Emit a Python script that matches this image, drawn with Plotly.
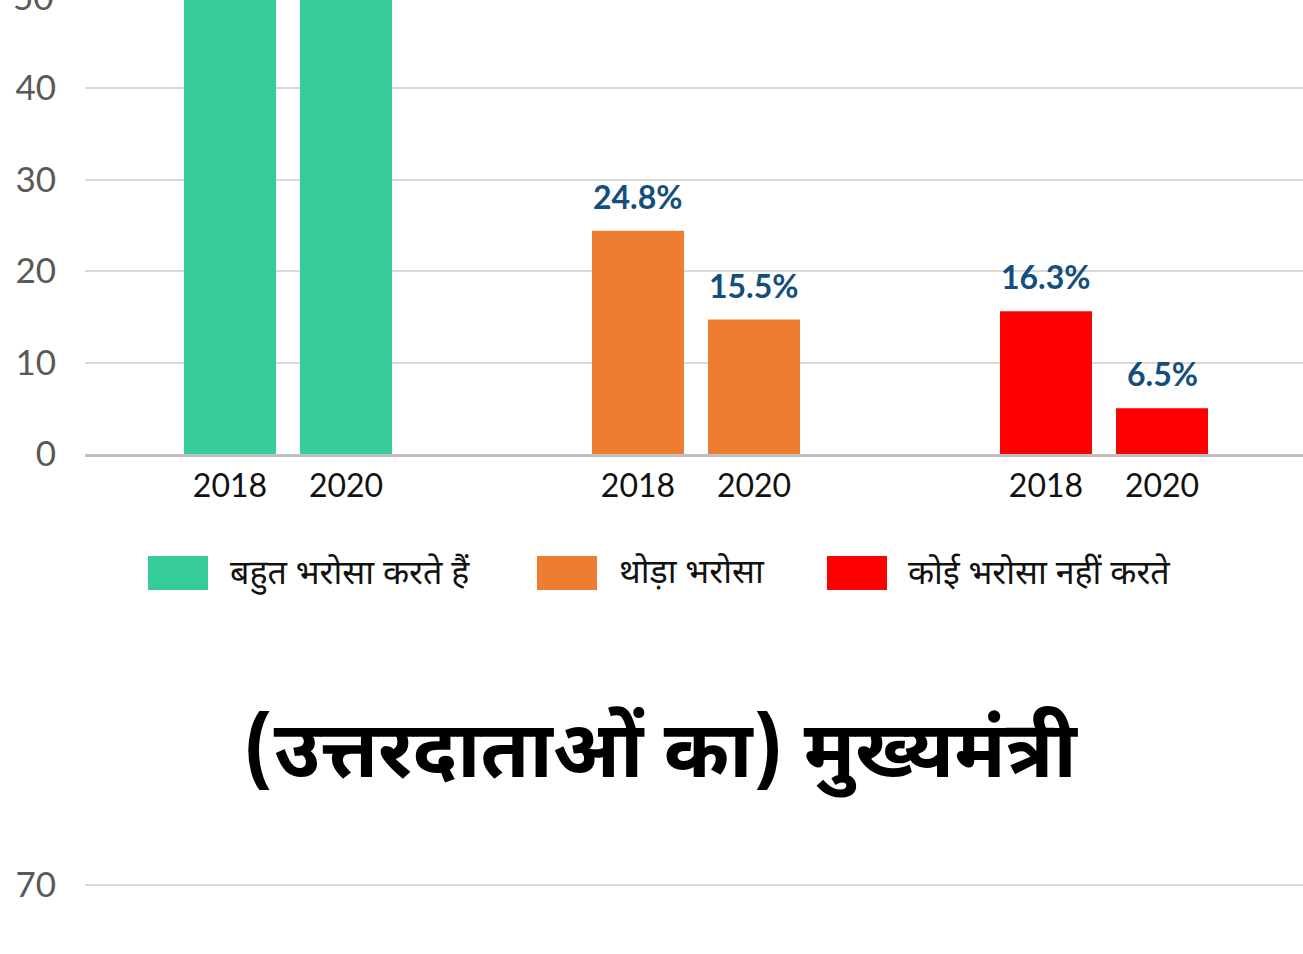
import plotly.graph_objects as go

# ---------------- data ----------------
years = ["2018", "2020"]
series_names = ["बहुत भरोसा करते हैं", "थोड़ा भरोसा", "कोई भरोसा नहीं करते"]
trust_high = [58.9, 78.0]      # above visible range
trust_some = [24.4, 14.7]
trust_none = [15.6, 5.0]
labels_high = ["58.9%", "78.0%"]
labels_some = ["24.8%", "15.5%"]
labels_none = ["16.3%", "6.5%"]
y_ticks = [0, 10, 20, 30, 40]
title_text = "(उत्तरदाताओं का) मुख्यमंत्री"

colors = ["#35CC97", "#ED7D31", "#FF0000"]
series_vals = [trust_high, trust_some, trust_none]
series_labels = [labels_high, labels_some, labels_none]

W, H = 1303, 954
ML = 85
PW = W - ML

def px2x(px):
    return (px - ML) / PW

def py2y(py):
    return 1 - py / H

offset = 0.1422
bar_w = 0.2255

fig = go.Figure()
annotations = []
tickvals, ticktext = [], []
for gi, (name, vals, labs, col) in enumerate(zip(series_names, series_vals, series_labels, colors)):
    xs = [gi - offset, gi + offset]
    tickvals += xs
    ticktext += years
    fig.add_trace(go.Bar(
        x=xs, y=vals, width=bar_w, name=name,
        marker=dict(color=col, line=dict(width=0)),
        showlegend=False, xaxis="x", yaxis="y",
    ))
    for xv, v, lab in zip(xs, vals, labs):
        annotations.append(dict(
            x=xv, y=v, xref="x", yref="y", text=lab, showarrow=False,
            yanchor="bottom", yshift=13,
            font=dict(family="Lato", size=32, color="#134F7C", weight=700),
        ))

# empty trace for the second (cut-off) chart
fig.add_trace(go.Scatter(x=[None], y=[None], xaxis="x2", yaxis="y2", showlegend=False))

# partially visible "50" tick above the view
annotations.append(dict(
    x=px2x(56), y=1 + 4 / H, xref="paper", yref="paper", text="50",
    showarrow=False, xanchor="right", yanchor="middle",
    font=dict(family="Lato", size=35, color="#595959"),
))

# manual legend
legend_items = [(148, 228), (537, 617), (827, 906)]
shapes = []
for (bx, tx), name, col in zip(legend_items, series_names, colors):
    shapes.append(dict(type="rect", xref="paper", yref="paper",
                       x0=px2x(bx), x1=px2x(bx + 60), y0=py2y(590), y1=py2y(556),
                       fillcolor=col, line=dict(width=0)))
    annotations.append(dict(
        x=px2x(tx), y=py2y(575), xref="paper", yref="paper", text=name,
        showarrow=False, xanchor="left", yanchor="middle",
        font=dict(family="Noto Sans Devanagari, Noto Sans, sans-serif", size=34, color="#111111"),
    ))

# second chart title
annotations.append(dict(
    x=px2x(660), y=py2y(757), xref="paper", yref="paper", text=title_text,
    showarrow=False, xanchor="center", yanchor="middle",
    font=dict(family="Noto Sans Devanagari, Noto Sans, sans-serif", size=79, color="#000000", weight=700),
))

scale = 366 / 40.0
fig.update_layout(
    width=W, height=H,
    margin=dict(l=ML, r=0, t=0, b=0, autoexpand=False),
    paper_bgcolor="white", plot_bgcolor="white",
    barmode="overlay",
    annotations=annotations, shapes=shapes,
    xaxis=dict(range=[-203 / 408, -203 / 408 + PW / 408], tickvals=tickvals, ticktext=ticktext,
               showgrid=False, zeroline=False, showline=True, linecolor="#BFBFBF", linewidth=3,
               ticks="", tickfont=dict(family="Lato", size=32, color="#111111"),
               ticklabelstandoff=2, anchor="y", fixedrange=True),
    yaxis=dict(domain=[1 - 454 / H, 1], range=[0, 454 / scale], tickvals=y_ticks,
               showgrid=True, gridcolor="#D9D9D9", gridwidth=2, zeroline=False,
               ticks="", tickfont=dict(family="Lato", size=35, color="#595959"),
               ticklabelstandoff=28, anchor="x"),
    xaxis2=dict(range=[-203 / 408, -203 / 408 + PW / 408], showticklabels=False, showgrid=False,
                zeroline=False, showline=False, anchor="y2"),
    yaxis2=dict(domain=[0, 81 / H], range=[70 - (954 - 885) / scale, 70 + (885 - 873) / scale],
                tick0=0, dtick=10, showgrid=True, gridcolor="#D9D9D9", gridwidth=2, zeroline=False,
                ticks="", tickfont=dict(family="Lato", size=35, color="#595959"),
                ticklabelstandoff=28, anchor="x2"),
)

fig.write_html("out.html", config={"displayModeBar": False},
               post_script="document.body.style.margin='0';document.body.style.overflow='hidden';")
